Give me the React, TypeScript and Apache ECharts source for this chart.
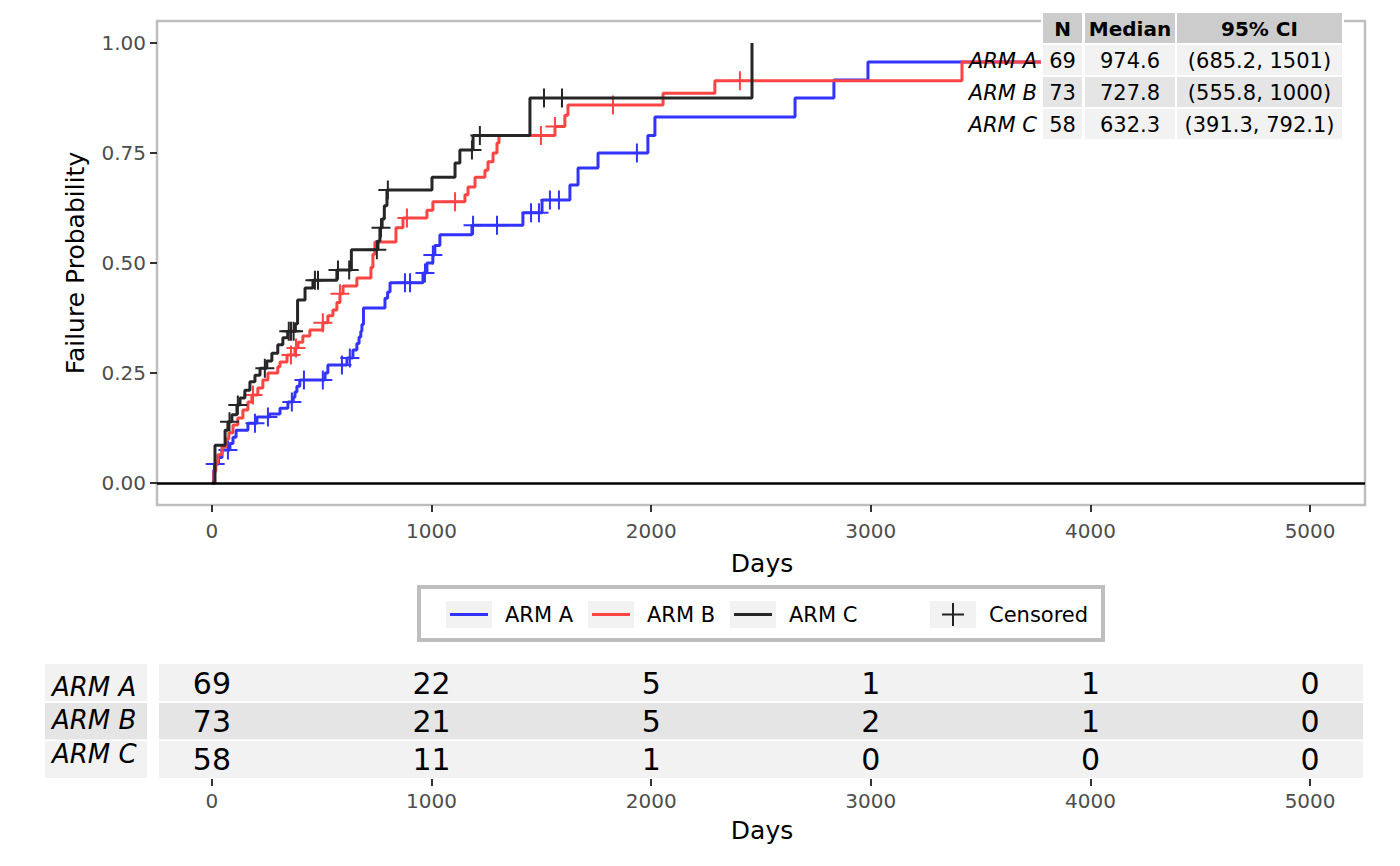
import React, { useEffect, useRef } from 'react';
import * as echarts from 'echarts';

// ---- Kaplan-Meier (failure) step data ----
const timesA = [0, 8, 12, 30, 46, 82, 96, 110, 164, 205, 262, 310, 346, 370, 378, 387, 400, 515, 528, 615, 642, 660, 670, 678, 683, 690, 788, 800, 811, 961, 979, 1006, 1015, 1038, 1184, 1416, 1503, 1630, 1667, 1758, 1985, 2017, 2655, 2832, 2987, 4300];
const failA = [0, 0.029, 0.043, 0.058, 0.075, 0.09, 0.104, 0.12, 0.136, 0.15, 0.157, 0.17, 0.184, 0.195, 0.207, 0.22, 0.234, 0.25, 0.268, 0.284, 0.302, 0.317, 0.332, 0.345, 0.36, 0.398, 0.42, 0.434, 0.455, 0.477, 0.5, 0.518, 0.54, 0.564, 0.586, 0.614, 0.643, 0.677, 0.716, 0.75, 0.79, 0.832, 0.875, 0.916, 0.957, 0.957];
const censorA = [15, 73, 196, 255, 364, 419, 505, 592, 628, 879, 902, 970, 1006, 1189, 1298, 1453, 1489, 1539, 1580, 1935];

const timesB = [0, 9, 18, 27, 46, 64, 77, 96, 118, 141, 164, 182, 209, 232, 255, 300, 310, 342, 378, 392, 414, 446, 505, 528, 551, 569, 583, 597, 660, 724, 733, 742, 838, 870, 979, 1006, 1152, 1166, 1198, 1243, 1257, 1280, 1298, 1307, 1562, 1607, 1621, 2054, 2290, 3415, 4300];
const failB = [0, 0.027, 0.045, 0.064, 0.082, 0.1, 0.114, 0.132, 0.148, 0.166, 0.184, 0.2, 0.216, 0.234, 0.25, 0.264, 0.275, 0.291, 0.307, 0.32, 0.334, 0.348, 0.364, 0.38, 0.393, 0.41, 0.43, 0.448, 0.466, 0.49, 0.52, 0.548, 0.58, 0.602, 0.62, 0.639, 0.655, 0.673, 0.695, 0.711, 0.73, 0.75, 0.773, 0.79, 0.81, 0.836, 0.859, 0.886, 0.914, 0.957, 0.957];
const censorB = [187, 360, 383, 505, 583, 888, 1107, 1498, 1562, 1826, 2404];

const timesC = [0, 14, 60, 73, 91, 114, 128, 150, 173, 196, 219, 250, 273, 300, 323, 345, 380, 390, 424, 460, 569, 635, 756, 765, 775, 785, 797, 1002, 1107, 1129, 1189, 1448, 2459];
const failC = [0, 0.086, 0.12, 0.139, 0.155, 0.177, 0.193, 0.211, 0.23, 0.245, 0.261, 0.277, 0.295, 0.314, 0.33, 0.345, 0.362, 0.416, 0.443, 0.461, 0.484, 0.53, 0.55, 0.58, 0.6, 0.63, 0.666, 0.695, 0.727, 0.757, 0.79, 0.875, 1.0];
const censorC = [80, 118, 241, 350, 360, 372, 469, 483, 574, 625, 751, 770, 801, 1184, 1220, 1512, 1594];

// ---- tick labels ----
const xTicks = [0, 1000, 2000, 3000, 4000, 5000];
const yTicks = [0, 0.25, 0.5, 0.75, 1.0];

// ---- number at risk ----
const riskTimes = [0, 1000, 2000, 3000, 4000, 5000];
const riskA = [69, 22, 5, 1, 1, 0];
const riskB = [73, 21, 5, 2, 1, 0];
const riskC = [58, 11, 1, 0, 0, 0];

// ---- summary table ----
const armNames = ['ARM A', 'ARM B', 'ARM C'];
const nValues = [69, 73, 58];
const medians = ['974.6', '727.8', '632.3'];
const cis = ['(685.2, 1501)', '(555.8, 1000)', '(391.3, 792.1)'];
const tableHeader = ['N', 'Median', '95% CI'];

const colors = ['#3333ff', '#ff4444', '#262626'];
const FONT = 'DejaVu Sans';

function stepAt(times: number[], vals: number[], t: number) {
  let v = 0;
  for (let i = 0; i < times.length; i++) {
    if (times[i] <= t) v = vals[i];
    else break;
  }
  return v;
}

function txt(x: number, y: number, text: string, opts: any = {}) {
  const align = opts.align || 'center';
  const valign = opts.valign || 'middle';
  return {
    type: 'text',
    x,
    y,
    z: opts.z ?? 10,
    rotation: opts.rotation || 0,
    silent: true,
    style: {
      text,
      fill: opts.fill || '#000',
      fontSize: opts.fontSize || 21,
      fontFamily: FONT,
      fontWeight: opts.fontWeight || 'normal',
      fontStyle: opts.fontStyle || 'normal',
      align,
      verticalAlign: valign,
      textAlign: align,
      textVerticalAlign: valign,
    },
  };
}

export default function App() {
  const ref = useRef<HTMLDivElement>(null);

  useEffect(() => {
    const chart = echarts.init(ref.current!, null, { renderer: 'svg' });

    const curves = [
      [timesA, failA, censorA],
      [timesB, failB, censorB],
      [timesC, failC, censorC],
    ] as number[][][];

    const series: any[] = [];
    curves.forEach((c, i) => {
      const [ts, fs, cs] = c;
      series.push({
        name: armNames[i],
        type: 'line',
        step: 'end',
        xAxisIndex: 0,
        yAxisIndex: 0,
        showSymbol: false,
        silent: true,
        z: 2 + i,
        lineStyle: { color: colors[i], width: 3, opacity: 1 },
        data: ts.map((t, k) => [t, fs[k]]),
        markLine:
          i === 2
            ? {
                silent: true,
                symbol: ['none', 'none'],
                label: { show: false },
                lineStyle: { color: '#000', width: 2.5, type: 'solid' },
                data: [{ yAxis: 0 }],
              }
            : undefined,
      });
      series.push({
        name: armNames[i] + ' censored',
        type: 'scatter',
        xAxisIndex: 0,
        yAxisIndex: 0,
        silent: true,
        z: 2 + i,
        symbol: 'path://M5,0L5,10M0,5L10,5',
        symbolSize: 19,
        itemStyle: { color: colors[i], borderColor: colors[i], borderWidth: 2, opacity: 1 },
        data: cs.map((t) => [t, stepAt(ts, fs, t)]),
      });
    });

    const risks = [riskA, riskB, riskC];
    risks.forEach((r, i) => {
      series.push({
        type: 'scatter',
        xAxisIndex: 1,
        yAxisIndex: 1,
        silent: true,
        symbolSize: 1,
        itemStyle: { color: 'rgba(0,0,0,0)', opacity: 1 },
        label: {
          show: true,
          position: 'inside',
          formatter: (p: any) => String(p.value[2]),
          fontSize: 30,
          fontFamily: FONT,
          color: '#000000',
          opacity: 1,
        },
        z: 5,
        data: r.map((n, k) => [riskTimes[k], i + 0.5, n]),
      });
    });

    const graphics: any[] = [];
    // risk-table row backgrounds
    const rowFill = ['#f2f2f2', '#e5e5e5', '#f2f2f2'];
    const rowTop = [664, 703, 741];
    const rowH = [37, 36.5, 37];
    const labelY = [687, 720, 754];
    armNames.forEach((a, i) => {
      graphics.push({ type: 'rect', z: 0, silent: true, shape: { x: 45, y: rowTop[i], width: 102, height: rowH[i] }, style: { fill: rowFill[i] } });
      graphics.push({ type: 'rect', z: 0, silent: true, shape: { x: 159, y: rowTop[i], width: 1204, height: rowH[i] }, style: { fill: rowFill[i] } });
      graphics.push(txt(52, labelY[i], a, { align: 'left', fontSize: 26, fontStyle: 'italic', z: 1 }));
    });

    // axis titles
    graphics.push(txt(75, 263, 'Failure Probability', { fontSize: 25, rotation: Math.PI / 2 }));
    graphics.push(txt(762, 563, 'Days', { fontSize: 25 }));
    graphics.push(txt(762, 830, 'Days', { fontSize: 25 }));

    // legend
    graphics.push({ type: 'rect', z: 1, silent: true, shape: { x: 419, y: 587, width: 684, height: 53 }, style: { fill: '#fff', stroke: '#bebebe', lineWidth: 4 } });
    const keyX = [446, 588, 730, 930];
    const textX = [505, 647, 789, 989];
    const legendLabels = [...armNames, 'Censored'];
    legendLabels.forEach((l, i) => {
      graphics.push({ type: 'rect', z: 2, silent: true, shape: { x: keyX[i], y: 601, width: 46, height: 27 }, style: { fill: '#f2f2f2' } });
      if (i < 3) {
        graphics.push({ type: 'line', z: 3, silent: true, shape: { x1: keyX[i] + 4, y1: 614.5, x2: keyX[i] + 42, y2: 614.5 }, style: { stroke: colors[i], lineWidth: 3 } });
      } else {
        graphics.push({ type: 'line', z: 3, silent: true, shape: { x1: keyX[i] + 23, y1: 603, x2: keyX[i] + 23, y2: 626 }, style: { stroke: '#222', lineWidth: 2 } });
        graphics.push({ type: 'line', z: 3, silent: true, shape: { x1: keyX[i] + 12, y1: 614.5, x2: keyX[i] + 34, y2: 614.5 }, style: { stroke: '#222', lineWidth: 2 } });
      }
      graphics.push(txt(textX[i], 615, l, { align: 'left', fontSize: 21, z: 3 }));
    });

    // summary table (top right)
    graphics.push({ type: 'rect', z: 10, silent: true, shape: { x: 1041, y: 11, width: 303, height: 130 }, style: { fill: '#fff' } });
    const colX = [1043, 1085, 1177];
    const colW = [39, 90, 165];
    const tRowY = [45, 77, 109];
    const tFill = ['#f2f2f2', '#e5e5e5', '#f2f2f2'];
    tableHeader.forEach((h, j) => {
      graphics.push({ type: 'rect', z: 11, silent: true, shape: { x: colX[j], y: 13, width: colW[j], height: 30 }, style: { fill: '#cccccc' } });
      graphics.push(txt(colX[j] + colW[j] / 2, 29, h, { fontWeight: 'bold', fontSize: 20, z: 12 }));
    });
    armNames.forEach((a, i) => {
      const cells = [String(nValues[i]), medians[i], cis[i]];
      cells.forEach((c, j) => {
        graphics.push({ type: 'rect', z: 11, silent: true, shape: { x: colX[j], y: tRowY[i], width: colW[j], height: 30 }, style: { fill: tFill[i] } });
        graphics.push(txt(colX[j] + colW[j] / 2, tRowY[i] + 16, c, { fontSize: 21, z: 12 }));
      });
      graphics.push(txt(1037, tRowY[i] + 16, a, { align: 'right', fontSize: 21, fontStyle: 'italic', z: 12 }));
    });

    const tickStyle = { color: '#333333', width: 2 };
    const labelStyle = { color: '#4d4d4d', fontSize: 20, fontFamily: FONT };

    const option: any = {
      animation: false,
      backgroundColor: '#ffffff',
      textStyle: { fontFamily: FONT },
      grid: [
        { left: 157, top: 21, width: 1208, height: 484, show: true, borderColor: '#bebebe', borderWidth: 2.5, backgroundColor: 'transparent', containLabel: false },
        { left: 157, top: 664, width: 1208, height: 115, containLabel: false },
      ],
      xAxis: [
        {
          type: 'value',
          gridIndex: 0,
          position: 'bottom',
          min: -250,
          max: 5250,
          axisLine: { show: false, onZero: false },
          splitLine: { show: false },
          axisTick: { show: true, length: 7, lineStyle: tickStyle, customValues: xTicks },
          axisLabel: { ...labelStyle, margin: 16, customValues: xTicks, formatter: (v: number) => String(v) },
        },
        {
          type: 'value',
          gridIndex: 1,
          position: 'bottom',
          min: -250,
          max: 5250,
          axisLine: { show: false, onZero: false },
          splitLine: { show: false },
          axisTick: { show: true, length: 7, lineStyle: tickStyle, customValues: riskTimes },
          axisLabel: { ...labelStyle, margin: 12, customValues: riskTimes, formatter: (v: number) => String(v) },
        },
      ],
      yAxis: [
        {
          type: 'value',
          gridIndex: 0,
          position: 'left',
          min: -0.05,
          max: 1.05,
          axisLine: { show: false, onZero: false },
          splitLine: { show: false },
          axisTick: { show: true, length: 7, lineStyle: tickStyle, customValues: yTicks },
          axisLabel: { ...labelStyle, margin: 11, customValues: yTicks, formatter: (v: number) => v.toFixed(2) },
        },
        {
          type: 'value',
          gridIndex: 1,
          min: 0,
          max: 3,
          inverse: true,
          show: false,
          axisLine: { onZero: false },
        },
      ],
      series,
      graphic: { elements: graphics },
    };

    chart.setOption(option);
    return () => chart.dispose();
  }, []);

  return (
    <div
      ref={ref}
      style={{ position: 'absolute', left: 0, top: 0, width: 1400, height: 866, background: '#fff' }}
    />
  );
}
